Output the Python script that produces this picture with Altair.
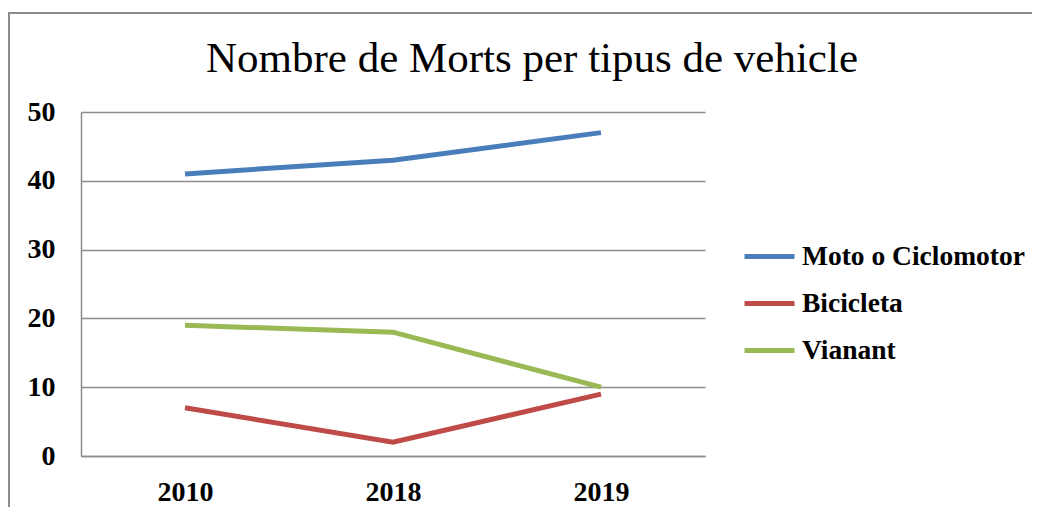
import altair as alt
import pandas as pd

years = ["2010", "2018", "2019"]
series_names = ["Moto o Ciclomotor", "Bicicleta", "Vianant"]
moto = [41, 43, 47]
bici = [7, 2, 9]
vianant = [19, 18, 10]
colors = ["#4a7ebb", "#be4b48", "#98b954"]
title_text = "Nombre de Morts per tipus de vehicle"

rows = []
for name, vals in zip(series_names, [moto, bici, vianant]):
    for y, v in zip(years, vals):
        rows.append({"Any": y, "Sèrie": name, "Morts": v})
df = pd.DataFrame(rows)

FONT = "Liberation Serif"

lines = alt.Chart(df).mark_line(strokeWidth=5).encode(
    x=alt.X("Any:N", sort=years, title=None,
            scale=alt.Scale(type="point", padding=0.5),
            axis=alt.Axis(labelAngle=0, ticks=False, labelPadding=22,
                          labelFont=FONT, labelFontSize=28, labelFontWeight="bold",
                          labelColor="#000", domainColor="#8c8c8c", domainWidth=1.5)),
    y=alt.Y("Morts:Q", title=None,
            scale=alt.Scale(domain=[0, 50], nice=False),
            axis=alt.Axis(values=[0, 10, 20, 30, 40, 50], ticks=False, labelPadding=26,
                          labelFont=FONT, labelFontSize=28, labelFontWeight="bold",
                          labelColor="#000", gridColor="#8c8c8c", gridWidth=1.5,
                          domainColor="#8c8c8c", domainWidth=1.5)),
    color=alt.Color("Sèrie:N", sort=series_names,
                    scale=alt.Scale(domain=series_names, range=colors),
                    legend=alt.Legend(title=None, orient="none", legendX=661, legendY=117,
                                      symbolType="stroke", symbolSize=2500,
                                      symbolStrokeWidth=5, labelOffset=5,
                                      labelFont=FONT, labelFontSize=27.5,
                                      labelFontWeight="bold", labelColor="#000",
                                      rowPadding=6, labelLimit=400)),
)

border = alt.Chart(df).mark_rect(fill=None, stroke="#8c8c8c", strokeWidth=2).encode(
    x=alt.value(-72), y=alt.value(-99), x2=alt.value(1000), y2=alt.value(600)
)

title = alt.Chart(pd.DataFrame({"t": [title_text]})).mark_text(
    font=FONT, fontSize=43, color="#000", align="center", baseline="alphabetic"
).encode(text="t:N", x=alt.value(451), y=alt.value(-40))

chart = alt.layer(border, lines, title).properties(
    width=624, height=344,
    autosize=alt.AutoSizeParams(type="none"),
    padding={"left": 73, "top": 104, "right": 327, "bottom": 51},
).configure_view(stroke=None)

chart.save("out.html", embed_options={"renderer": "svg", "actions": False})
